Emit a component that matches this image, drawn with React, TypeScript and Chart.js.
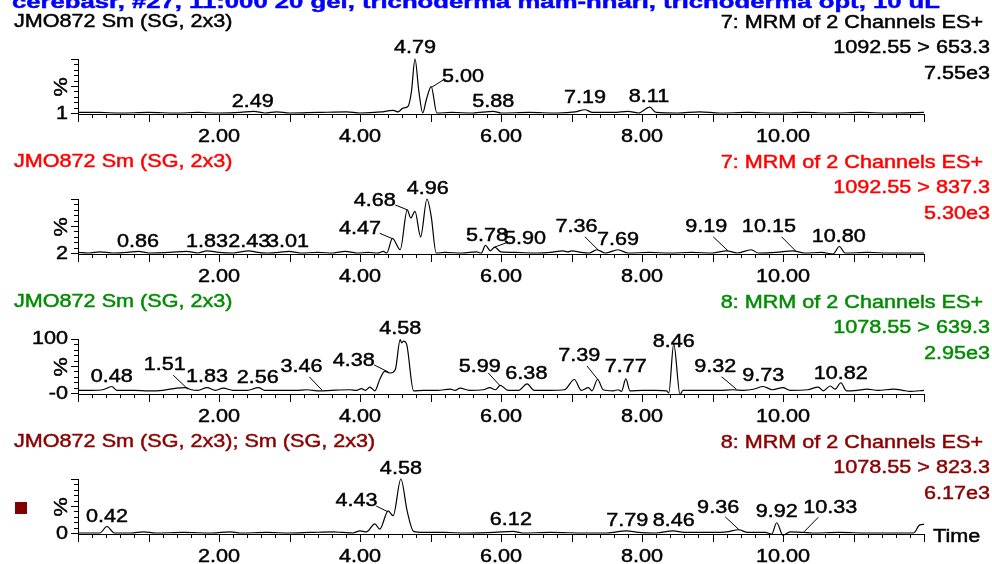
import React, { useEffect, useRef } from "react";
import { Chart, registerables } from "chart.js";
Chart.register(...registerables);

type Pt = [number, number];
type PeakLabel = [string, number, number, number[] | null];

// ---------- data ----------
const TITLE = "cerebasr, #27, 11:000 20 gel, trichoderma mam-hnarl, trichoderma opt, 10 uL";
const X_MIN = 0;
const X_MAX = 12;
const X_TICK_LABELS = ["2.00", "4.00", "6.00", "8.00", "10.00"];
const X_TICK_LABEL_VALUES = [2, 4, 6, 8, 10];

const PANEL_NAMES = ["JMO872 Sm (SG, 2x3)", "JMO872 Sm (SG, 2x3)", "JMO872 Sm (SG, 2x3)", "JMO872 Sm (SG, 2x3); Sm (SG, 2x3)"];
const PANEL_FUNCS = ["7: MRM of 2 Channels ES+", "7: MRM of 2 Channels ES+", "8: MRM of 2 Channels ES+", "8: MRM of 2 Channels ES+"];
const PANEL_TRANSITIONS = ["1092.55 > 653.3", "1092.55 > 837.3", "1078.55 > 639.3", "1078.55 > 823.3"];
const PANEL_INTENSITIES = ["7.55e3", "5.30e3", "2.95e3", "6.17e3"];
const PANEL_COLORS = ["#000000", "#ff0000", "#008c00", "#8b0000"];
const Y_TOP_LABELS = ["", "", "100", ""];
const Y_BOTTOM_LABELS = ["1", "2", "-0", "0"];

const P1_TRACE: Pt[] = [
  [0, 1], [0.3, 1], [0.6, 0], [1.0, 1], [1.4, 0], [1.7, 1], [2.0, 0], [2.3, 1], [2.49, 3], [2.65, 0], [2.82, 2], [3.0, 0],
  [3.4, 1], [3.81, 2], [4.0, 0], [4.3, 2], [4.4, 4], [4.47, 5], [4.54, 2], [4.61, 9], [4.68, 12], [4.73, 40], [4.78, 100],
  [4.835, 40], [4.89, 0], [4.94, 24], [5.01, 49], [5.09, 0], [5.3, 1], [5.6, 0], [5.89, 3], [6.0, 0], [6.4, 1], [6.8, 0],
  [7.05, 2], [7.19, 6], [7.3, 1], [7.6, 1], [7.8, 3], [7.95, 0], [8.11, 11], [8.2, 1], [8.5, 0], [8.82, 2], [9.1, 0],
  [9.5, 1], [9.9, 0], [10.3, 1], [10.7, 0], [11.1, 1], [11.5, 0], [12, 1],
];
const P1_LABELS: PeakLabel[] = [
  ["2.49", 2.48, 20, null],
  ["4.79", 4.78, 120, null],
  ["5.00", 5.46, 67, [5.18, 61, 5.02, 48]],
  ["5.88", 5.89, 20, null],
  ["7.19", 7.19, 28, null],
  ["8.11", 8.1, 30, null],
];

const P2_TRACE: Pt[] = [
  [0, 1], [0.15, 0], [0.31, 2], [0.5, 0], [0.7, 1], [0.86, 3], [1.0, 0], [1.3, 1], [1.54, 3], [1.7, 0], [1.83, 4], [2.0, 1],
  [2.2, 0], [2.42, 4], [2.55, 1], [2.68, 0], [2.85, 1], [2.99, 3], [3.15, 0], [3.4, 1], [3.62, 0], [3.79, 3], [3.95, 0],
  [4.12, 1], [4.25, 0], [4.33, 3], [4.38, 0], [4.46, 27], [4.57, 6], [4.67, 80], [4.72, 65], [4.78, 77], [4.86, 30],
  [4.95, 100], [5.01, 68], [5.08, 0], [5.2, 1], [5.45, 0], [5.65, 2], [5.72, 0], [5.78, 14], [5.85, 4], [5.91, 11],
  [6.0, 2], [6.2, 1], [6.5, 0], [6.7, 1], [6.88, 4], [6.95, 2], [7.0, 4], [7.14, 1], [7.25, 0], [7.36, 6], [7.48, 0],
  [7.66, 6], [7.8, 0], [8.1, 1], [8.4, 0], [8.7, 1], [9.0, 0], [9.2, 4], [9.35, 0], [9.55, 6], [9.65, 0], [9.9, 1],
  [10.14, 4], [10.3, 0], [10.55, 1], [10.71, -2], [10.8, 12], [10.88, 0], [11.2, 1], [11.5, 0], [12, 0],
];
const P2_LABELS: PeakLabel[] = [
  ["0.86", 0.85, 21, null],
  ["1.83", 1.83, 21, null],
  ["2.43", 2.43, 21, null],
  ["3.01", 2.98, 21, null],
  ["4.47", 4.0, 44, [4.28, 36.5, 4.46, 26.5]],
  ["4.68", 4.21, 96, [4.5, 89, 4.67, 80]],
  ["4.96", 4.96, 118, null],
  ["5.78", 5.8, 31.5, null],
  ["5.90", 6.34, 26, [6.07, 18.5, 5.91, 11]],
  ["7.36", 7.07, 47.6, [7.19, 30, 7.38, 5.5]],
  ["7.69", 7.66, 24, null],
  ["9.19", 8.91, 47.6, [9.01, 30, 9.22, 4]],
  ["10.15", 9.8, 47.6, [9.98, 30, 10.19, 2.4]],
  ["10.80", 10.79, 29.6, null],
];

const P3_TRACE: Pt[] = [
  [0, 5], [0.2, 5], [0.35, 6], [0.48, 12], [0.55, 5], [0.8, 5], [1.0, 4], [1.2, 5], [1.4, 9], [1.52, 10], [1.61, 6],
  [1.7, 5], [1.83, 10], [1.95, 5], [2.06, 9], [2.2, 5], [2.4, 5], [2.56, 10], [2.65, 5], [2.9, 5], [3.1, 5], [3.24, 6],
  [3.43, 4], [3.6, 5], [3.86, 6], [3.95, 5], [4.02, 8], [4.08, 5], [4.14, 11], [4.21, 4], [4.28, 25], [4.35, 40],
  [4.43, 37], [4.5, 43], [4.57, 99], [4.59, 93], [4.62, 96], [4.66, 91], [4.76, 4], [4.9, 5], [5.1, 5], [5.28, 7],
  [5.35, 5], [5.42, 9], [5.55, 5], [5.75, 6], [5.84, 10], [5.92, 6], [5.99, 14], [6.1, 5], [6.25, 5], [6.37, 17],
  [6.47, 5], [6.7, 5], [6.9, 6], [7.04, 25], [7.14, 5], [7.24, 10], [7.29, 4], [7.37, 25], [7.45, 6], [7.59, 4],
  [7.66, 6], [7.71, 3], [7.77, 26], [7.83, 4], [8.0, 5], [8.2, 5], [8.35, 4], [8.38, 0], [8.45, 91], [8.54, -3],
  [8.58, 5], [8.8, 5], [9.1, 5], [9.29, 6], [9.45, 5], [9.58, 7], [9.72, 12], [9.85, 6], [10.0, 10], [10.1, 5],
  [10.35, 6], [10.5, 11], [10.57, 4], [10.67, 13], [10.74, 7], [10.82, 19], [10.9, 4], [11.05, 5], [11.19, 7],
  [11.35, 5], [11.57, 7], [11.7, 5], [11.8, 3], [12, 5],
];
const P3_LABELS: PeakLabel[] = [
  ["0.48", 0.48, 30, null],
  ["1.51", 1.23, 52, [1.35, 33, 1.56, 7]],
  ["1.83", 1.83, 30, null],
  ["2.56", 2.55, 28, null],
  ["3.46", 3.17, 47.6, [3.28, 30, 3.46, 5.5]],
  ["4.38", 3.91, 59, [4.2, 52, 4.4, 39]],
  ["4.58", 4.57, 118, null],
  ["5.99", 5.7, 47.6, [5.82, 37, 5.99, 13]],
  ["6.38", 6.36, 35, null],
  ["7.39", 7.11, 68.5, [7.22, 50, 7.38, 24]],
  ["7.77", 7.77, 47.6, null],
  ["8.46", 8.45, 95, null],
  ["9.32", 9.04, 47.6, [9.13, 30, 9.34, 7]],
  ["9.73", 9.72, 31.5, null],
  ["10.82", 10.82, 35, null],
];

const P4_TRACE: Pt[] = [
  [0, 0], [0.31, 0], [0.41, 12], [0.52, 0], [0.75, 0], [0.93, 2], [1.1, 0], [1.5, 1], [1.9, 0], [2.16, 2], [2.3, 0],
  [2.68, 1], [3.0, 0], [3.3, 1], [3.62, 2], [3.76, 1], [3.9, 0], [4.0, 4], [4.09, 2], [4.21, 17], [4.28, 7], [4.4, 41],
  [4.47, 32], [4.58, 100], [4.67, 40], [4.76, 3], [4.9, 1], [5.2, 1], [5.5, 0], [5.9, 1], [6.17, 3], [6.3, 0], [6.7, 1],
  [7.2, 0], [7.5, 0], [7.78, 4], [7.95, 1], [8.2, 0], [8.44, 4], [8.6, 1], [9.0, 1], [9.2, 2], [9.37, 6], [9.5, 1],
  [9.75, 1], [9.84, -2], [9.91, 19], [10.0, -4], [10.1, 2], [10.29, 1], [10.41, 0], [10.8, 1], [11.2, 0], [11.6, 0],
  [11.85, 0], [11.94, 15], [12, 16],
];
const P4_LABELS: PeakLabel[] = [
  ["0.42", 0.41, 29, null],
  ["4.43", 3.95, 59, [4.23, 50, 4.4, 39]],
  ["4.58", 4.58, 118, null],
  ["6.12", 6.14, 24, null],
  ["7.79", 7.79, 23, null],
  ["8.46", 8.45, 23, null],
  ["9.36", 9.08, 46, [9.18, 30, 9.38, 5.5]],
  ["9.92", 9.91, 39, null],
  ["10.33", 10.67, 46, [10.5, 29, 10.3, 2.4]],
];

const TRACES = [P1_TRACE, P2_TRACE, P3_TRACE, P4_TRACE];
const LABELS = [P1_LABELS, P2_LABELS, P3_LABELS, P4_LABELS];

// ---------- style / layout ----------
const W = 992;
const PANEL_STEP = 140;
const CANVAS_H = 150;
const FONT_SIZE = 18;
const SX = 1.2;
const TEXT_WEIGHT_STROKE = 0.45;
const FONT_FAMILY = '"Liberation Sans", Arial, Helvetica, sans-serif';

function txt(
  ctx: CanvasRenderingContext2D,
  s: string,
  x: number,
  y: number,
  align: CanvasTextAlign,
  color: string,
  rotate = false,
  bold = false,
  sx = SX,
  baseline: CanvasTextBaseline = "middle"
) {
  ctx.save();
  ctx.translate(x, y);
  if (rotate) ctx.rotate(-Math.PI / 2);
  ctx.scale(sx, 1);
  ctx.font = `${bold ? "bold " : ""}${FONT_SIZE}px ${FONT_FAMILY}`;
  ctx.fillStyle = color;
  ctx.strokeStyle = color;
  ctx.lineWidth = TEXT_WEIGHT_STROKE;
  ctx.textAlign = align;
  ctx.textBaseline = baseline;
  ctx.fillText(s, 0, 0);
  ctx.strokeText(s, 0, 0);
  ctx.restore();
}

function makeDeco(i: number) {
  return {
    id: "deco" + i,
    afterDraw(chart: any) {
      const ctx: CanvasRenderingContext2D = chart.ctx;
      const xs = chart.scales.x;
      const ys = chart.scales.y;
      const { left, right, top, bottom } = chart.chartArea;
      const color = PANEL_COLORS[i];
      const axisY = bottom + 1;
      ctx.save();
      ctx.strokeStyle = "#000";
      ctx.lineWidth = 1;
      // axes lines
      ctx.beginPath();
      ctx.moveTo(left + 0.5, top);
      ctx.lineTo(left + 0.5, axisY + 0.5);
      ctx.lineTo(right, axisY + 0.5);
      ctx.stroke();
      // x ticks
      ctx.beginPath();
      for (let k = 0; k <= 60; k++) {
        const v = k * 0.2;
        const px = Math.round(xs.getPixelForValue(v)) + 0.5;
        const len = k % 5 === 0 ? 8 : 4;
        ctx.moveTo(px, axisY);
        ctx.lineTo(px, axisY + len);
      }
      // y ticks
      for (let k = 0; k <= 10; k++) {
        const py = Math.round(ys.getPixelForValue(k * 10)) + 0.5;
        const len = k % 5 === 0 ? 7 : 4;
        ctx.moveTo(left, py);
        ctx.lineTo(left - len, py);
      }
      ctx.stroke();
      // x tick labels
      X_TICK_LABEL_VALUES.forEach((v, j) => {
        txt(ctx, X_TICK_LABELS[j], xs.getPixelForValue(v), axisY + 23.5, "center", "#000");
      });
      // y labels
      if (Y_TOP_LABELS[i]) txt(ctx, Y_TOP_LABELS[i], 68, ys.getPixelForValue(100), "right", "#000");
      txt(ctx, Y_BOTTOM_LABELS[i], 68, ys.getPixelForValue(0) + 1, "right", "#000");
      txt(ctx, "%", 62, 87, "center", "#000", true);
      // headers
      txt(ctx, PANEL_NAMES[i], 14, 22, "left", color);
      txt(ctx, PANEL_FUNCS[i], 983, 23, "right", color);
      txt(ctx, PANEL_TRANSITIONS[i], 990, 48, "right", color);
      txt(ctx, PANEL_INTENSITIES[i], 990, 74, "right", color);
      // peak labels
      ctx.strokeStyle = "#000";
      ctx.lineWidth = 1;
      ctx.beginPath();
      LABELS[i].forEach(([s, lx, ly, leader]) => {
        txt(ctx, s, xs.getPixelForValue(lx), ys.getPixelForValue(ly), "center", "#000");
        if (leader) {
          ctx.moveTo(xs.getPixelForValue(leader[0]), ys.getPixelForValue(leader[1]));
          ctx.lineTo(xs.getPixelForValue(leader[2]), ys.getPixelForValue(leader[3]));
        }
      });
      ctx.stroke();
      if (i === 0) {
        ctx.font = `bold ${FONT_SIZE}px ${FONT_FAMILY}`;
        const w = ctx.measureText(TITLE).width;
        txt(ctx, TITLE, 12, 7.5, "left", "#0000ff", false, true, 928 / w, "alphabetic");
      }
      if (i === 3) {
        txt(ctx, "Time", 933, axisY + 3, "left", "#000");
        ctx.fillStyle = "#800000";
        ctx.fillRect(15, 82, 12, 12);
      }
      ctx.restore();
    },
  };
}

function Panel({ index }: { index: number }) {
  const ref = useRef<HTMLCanvasElement>(null);
  useEffect(() => {
    const chart = new Chart(ref.current as HTMLCanvasElement, {
      type: "line",
      data: {
        datasets: [
          {
            data: TRACES[index].map(([x, y]) => ({ x, y })),
            borderColor: "#000",
            borderWidth: 1.2,
            pointRadius: 0,
            cubicInterpolationMode: "monotone",
            fill: false,
            clip: false as any,
          },
        ],
      },
      options: {
        animation: false,
        responsive: false,
        devicePixelRatio: 1,
        events: [],
        layout: { padding: { left: 78, right: W - 924, top: 59, bottom: CANVAS_H - 113 } },
        plugins: { legend: { display: false }, title: { display: false }, tooltip: { enabled: false } },
        scales: {
          x: { type: "linear", min: X_MIN, max: X_MAX, display: false },
          y: { type: "linear", min: 0, max: 100, display: false },
        },
      },
      plugins: [makeDeco(index)],
    } as any);
    return () => chart.destroy();
  }, [index]);
  return (
    <canvas
      ref={ref}
      width={W}
      height={CANVAS_H}
      style={{ position: "absolute", left: 0, top: index * PANEL_STEP, width: W, height: CANVAS_H }}
    />
  );
}

export default function App() {
  return (
    <div style={{ position: "fixed", left: 0, top: 0, width: W, height: 564, overflow: "hidden", background: "#fff" }}>
      {[0, 1, 2, 3].map((i) => (
        <Panel key={i} index={i} />
      ))}
    </div>
  );
}
